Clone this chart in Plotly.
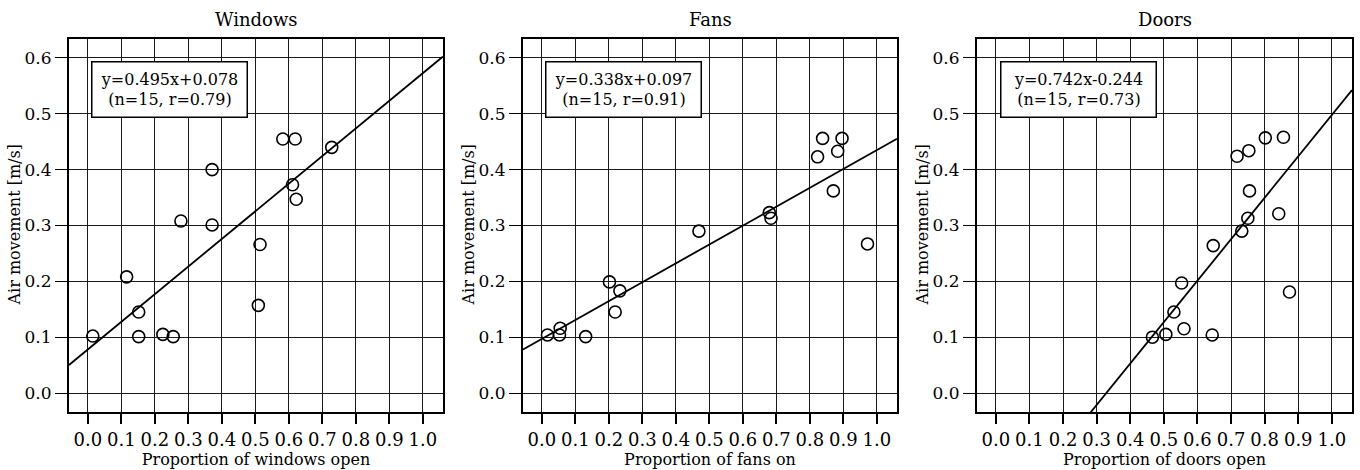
import plotly.graph_objects as go

# ---------------- data ----------------
panel_titles = ["Windows", "Fans", "Doors"]
x_titles = ["Proportion of windows open", "Proportion of fans on", "Proportion of doors open"]
y_title = "Air movement [m/s]"

windows_x = [0.015, 0.116, 0.152, 0.152, 0.224, 0.255, 0.278, 0.371, 0.371, 0.514, 0.509, 0.582, 0.619, 0.611, 0.622, 0.728]
windows_y = [0.102, 0.208, 0.145, 0.101, 0.105, 0.101, 0.308, 0.400, 0.301, 0.266, 0.157, 0.455, 0.455, 0.373, 0.347, 0.440]

fans_x = [0.017, 0.055, 0.053, 0.131, 0.202, 0.233, 0.219, 0.469, 0.679, 0.684, 0.823, 0.838, 0.883, 0.896, 0.870, 0.972]
fans_y = [0.104, 0.116, 0.104, 0.101, 0.199, 0.183, 0.145, 0.290, 0.323, 0.313, 0.423, 0.456, 0.433, 0.456, 0.362, 0.267]

doors_x = [0.466, 0.506, 0.530, 0.553, 0.560, 0.644, 0.647, 0.718, 0.732, 0.750, 0.753, 0.755, 0.802, 0.842, 0.856, 0.874]
doors_y = [0.100, 0.105, 0.145, 0.197, 0.115, 0.104, 0.264, 0.424, 0.290, 0.313, 0.434, 0.362, 0.457, 0.321, 0.458, 0.181]

slopes = [0.495, 0.338, 0.742]
intercepts = [0.078, 0.097, -0.244]
equation_labels = ["y=0.495x+0.078<br>(n=15, r=0.79)",
                   "y=0.338x+0.097<br>(n=15, r=0.91)",
                   "y=0.742x-0.244<br>(n=15, r=0.73)"]

x_tick_vals = [0.0, 0.1, 0.2, 0.3, 0.4, 0.5, 0.6, 0.7, 0.8, 0.9, 1.0]
x_tick_text = ["0.0", "0.1", "0.2", "0.3", "0.4", "0.5", "0.6", "0.7", "0.8", "0.9", "1.0"]
y_tick_vals = [0.0, 0.1, 0.2, 0.3, 0.4, 0.5, 0.6]
y_tick_text = ["0.0", "0.1", "0.2", "0.3", "0.4", "0.5", "0.6"]

# ---------------- layout geometry ----------------
X_RANGE = [-0.056, 1.06]
Y_RANGE = [-0.034, 0.634]
W, H = 1360, 470
left_px = [69, 523, 977]
right_px = [443, 897, 1352]
top_px, bottom_px = 39, 412
x_domains = [[l / W, r / W] for l, r in zip(left_px, right_px)]
y_domain = [1 - bottom_px / H, 1 - top_px / H]

FONT = "DejaVu Serif"
series = [(windows_x, windows_y), (fans_x, fans_y), (doors_x, doors_y)]

fig = go.Figure()
layout = dict(
    width=W, height=H,
    margin=dict(l=0, r=0, t=0, b=0),
    paper_bgcolor="white", plot_bgcolor="white",
    showlegend=False,
    font=dict(family=FONT, size=16, color="black"),
    annotations=[],
)

for i in range(3):
    xa = "x" if i == 0 else f"x{i+1}"
    ya = "y" if i == 0 else f"y{i+1}"
    xs, ys = series[i]
    # regression line across the visible x-range
    lx = [X_RANGE[0], X_RANGE[1]]
    ly = [slopes[i] * v + intercepts[i] for v in lx]
    fig.add_trace(go.Scatter(x=lx, y=ly, mode="lines", xaxis=xa, yaxis=ya,
                             line=dict(color="black", width=1.8), hoverinfo="skip"))
    fig.add_trace(go.Scatter(x=xs, y=ys, mode="markers", xaxis=xa, yaxis=ya,
                             marker=dict(symbol="circle-open", size=12, color="black",
                                         line=dict(width=1.6, color="black"))))

    xkey = "xaxis" if i == 0 else f"xaxis{i+1}"
    ykey = "yaxis" if i == 0 else f"yaxis{i+1}"
    layout[xkey] = dict(
        domain=x_domains[i], range=X_RANGE, anchor=ya,
        tickvals=x_tick_vals, ticktext=x_tick_text,
        ticks="outside", ticklen=10, tickwidth=2, tickcolor="black",
        showgrid=True, gridcolor="#1a1a1a", gridwidth=1,
        showline=True, linecolor="black", linewidth=2, mirror=True,
        zeroline=False, tickfont=dict(family=FONT, size=18),
        title=dict(text=x_titles[i], font=dict(family=FONT, size=16), standoff=3),
    )
    layout[ykey] = dict(
        domain=y_domain, range=Y_RANGE, anchor=xa,
        tickvals=y_tick_vals, ticktext=y_tick_text,
        ticks="outside", ticklen=12, tickwidth=1, tickcolor="black",
        showgrid=True, gridcolor="#1a1a1a", gridwidth=1,
        showline=True, linecolor="black", linewidth=2, mirror=True,
        zeroline=False, tickfont=dict(family=FONT, size=17),
    )
    # y-axis title
    layout["annotations"].append(dict(
        text=y_title, xref="paper", yref="paper",
        x=(left_px[i] - 55) / W, y=1 - (top_px + bottom_px) / 2 / H,
        xanchor="center", yanchor="middle", textangle=-90,
        showarrow=False, font=dict(family=FONT, size=16)))
    # panel title
    layout["annotations"].append(dict(
        text=panel_titles[i], xref=f"{xa} domain", yref="paper",
        x=0.5, y=1 - 20 / H, xanchor="center", yanchor="middle",
        showarrow=False, font=dict(family=FONT, size=18)))
    # equation box
    layout["annotations"].append(dict(
        text=equation_labels[i], xref=xa, yref=ya,
        x=0.245, y=0.543, xanchor="center", yanchor="middle",
        showarrow=False, align="center", font=dict(family=FONT, size=16),
        bgcolor="white", bordercolor="black", borderwidth=1.5, borderpad=3,
        width=148, height=48))

fig.update_layout(**layout)
fig.write_html("out.html")
